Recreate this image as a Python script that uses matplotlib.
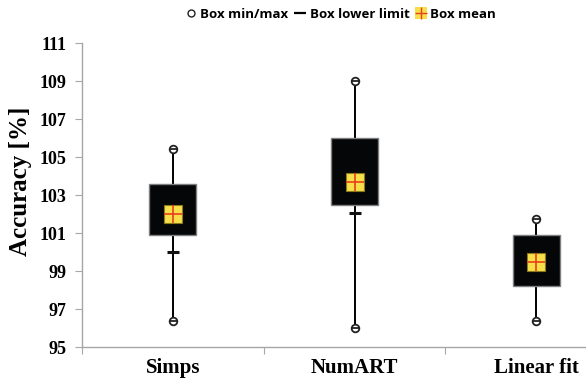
import numpy as np
import matplotlib.pyplot as plt
from matplotlib.lines import Line2D

categories = ['Simps', 'NumART', 'Linear fit']
box_min = [96.35, 96.0, 96.35]
box_max = [105.4, 109.0, 101.75]
box_bottom = [100.9, 102.5, 98.2]
box_top = [103.6, 106.0, 100.9]
lower_limit = [100.0, 102.05, 98.35]
box_mean = [102.0, 103.7, 99.5]
y_ticks = [95, 97, 99, 101, 103, 105, 107, 109, 111]

serif = 'Liberation Serif'
spine_gray = '#a6a6a6'
yellow = '#f7df4a'
red = '#e8401c'

fig = plt.figure(figsize=(5.86, 3.83), dpi=100)
ax = fig.add_axes([82 / 586, 1 - 347 / 383, 545 / 586, 304 / 383])

x = np.arange(1, len(categories) + 1)
lo = np.array(box_bottom)
hi = np.array(box_top)

# whiskers and lower limit dash sit under the boxes
ax.vlines(x, box_min, box_max, color='black', linewidth=1.4, zorder=1)
ax.plot(x, lower_limit, linestyle='none', marker='_', ms=9, mec='#111111',
        mew=2.2, zorder=1.5)
ax.bar(x, hi - lo, bottom=lo, width=0.26, color='#050608',
       edgecolor='#7f7f7f', linewidth=1.0, zorder=2)

# min / max markers
for vals in (box_min, box_max):
    ax.plot(x, vals, linestyle='none', marker='o', ms=5.5, mfc='white',
            mec='#222222', mew=1.3, zorder=4)
    ax.plot(x, vals, linestyle='none', marker='_', ms=5.5, mec='#222222',
            mew=1.3, zorder=5)

# mean markers
ax.plot(x, box_mean, linestyle='none', marker='s', ms=13, mfc=yellow,
        mec='#8a7a1a', mew=0.8, zorder=5)
ax.plot(x, box_mean, linestyle='none', marker='+', ms=13, mec=red,
        mew=1.2, zorder=6)

ax.set_xlim(0.5, 3.5)
ax.set_ylim(95, 111)
ax.set_yticks(y_ticks)
ax.set_yticklabels([str(v) for v in y_ticks], fontfamily=serif,
                   fontweight='bold', fontsize=13)
ax.set_xticks(np.arange(0.5, 3.6, 1.0))
ax.set_xticklabels([])
ax.set_xticks(x, minor=True)
ax.set_xticklabels(categories, minor=True, fontfamily=serif,
                   fontweight='bold', fontsize=15)
ax.tick_params(axis='x', which='minor', length=0, pad=8)
ax.tick_params(axis='x', which='major', length=5, color=spine_gray)
ax.tick_params(axis='y', length=5, color=spine_gray, pad=6)

for side in ('top', 'right'):
    ax.spines[side].set_visible(False)
for side in ('left', 'bottom'):
    ax.spines[side].set_color(spine_gray)
    ax.spines[side].set_linewidth(1.0)

ax.set_ylabel('Accuracy [%]', fontfamily=serif, fontweight='bold',
              fontsize=18)
ax.yaxis.set_label_coords(-0.091, 0.546)

handles = [
    Line2D([], [], linestyle='none', marker='o', ms=5, mfc='white',
           mec='#222222', mew=1.0),
    Line2D([], [], linestyle='none', marker='_', ms=9, mec='black', mew=1.6),
    (Line2D([], [], linestyle='none', marker='s', ms=8, mfc=yellow,
            mec=yellow, mew=0),
     Line2D([], [], linestyle='none', marker='+', ms=8, mec=red, mew=1.0)),
]
labels = ['Box min/max', 'Box lower limit', 'Box mean']
fig.legend(handles, labels, loc='center', bbox_to_anchor=(341 / 586, 1 - 14 / 383),
           ncol=3, frameon=False, handlelength=0.8, handletextpad=0.3,
           columnspacing=0.5, prop={'family': 'Open Sans', 'weight': 'bold',
                                    'size': 9.5})

fig.savefig('out.png', dpi=100)
